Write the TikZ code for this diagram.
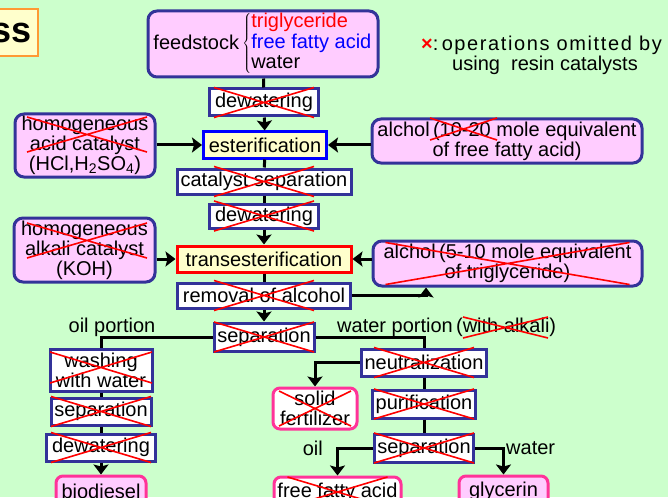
\documentclass[tikz,border=0pt]{standalone}
\usepackage{fontspec}
\setmainfont{Liberation Sans}
\usetikzlibrary{arrows.meta}
\definecolor{bggreen}{HTML}{CCFFCC}
\definecolor{boxblue}{HTML}{333399}
\definecolor{hotpink}{HTML}{FF3399}
\definecolor{lightpink}{HTML}{FFCCFF}
\definecolor{lightyellow}{HTML}{FFFFCC}
\definecolor{titleorange}{HTML}{FF9933}
% Kreuz: Mitte, halbe Breite, halbe Hoehe
\newcommand{\redcross}[3]{%
  \draw[crossline] ([shift={(-#2,-#3)}]#1) -- ([shift={(#2,#3)}]#1)
    ([shift={(-#2,#3)}]#1) -- ([shift={(#2,-#3)}]#1);}
\begin{document}
\begin{tikzpicture}[x=1pt, y=-1pt, inner sep=0pt, font=\fontsize{20}{20}\selectfont,
  sz/.style 2 args={minimum width=#1pt, minimum height=#2pt},
  box/.style={draw=boxblue, line width=3pt, fill=white, align=center},
  rbox/.style={box, rounded corners=9pt, fill=lightpink},
  product/.style={draw=hotpink, line width=3pt, rounded corners=7pt, fill=lightpink, align=center},
  waste/.style={product, fill=white},
  titlebox/.style={draw=titleorange, line width=2pt, fill=lightyellow, inner xsep=6pt,
    minimum height=47pt, font=\fontsize{36}{36}\selectfont\bfseries},
  link/.style={line width=3pt},
  arr/.style={link, -{Stealth[length=10pt, width=15pt, inset=2pt]}},
  crossline/.style={red, line width=1.6pt}]
% Hintergrund
\fill[bggreen] (0,0) rectangle (668,497);
\useasboundingbox (0,0) rectangle (668,497);
\node (title) [titlebox, anchor=east] at (39,32.5) {ss};
% Legende
\node (legend) [anchor=west, align=left] at (421,55)
  {\addfontfeature{LetterSpace=8}\textcolor{red}{\bfseries ×}:\,operations omitted by\\
   \hspace*{31pt}using\ \ resin catalysts};
% Hauptstrang
\node (feed) [rbox, sz={230}{66}] at (263,44)
  {feedstock\,$\left\{\begin{tabular}{@{}l@{}}\textcolor{red}{triglyceride}\\
   \textcolor{blue}{free fatty acid}\\ water\end{tabular}\right.$};
\node (dw1) [box, sz={109}{27}] at (264,102.5) {dewatering};
\node (ester) [box, draw=blue, fill=lightyellow, sz={123}{26}] at (265,145) {esterification};
\node (catsep) [box, sz={174}{25}] at (264,181.5) {catalyst separation};
\node (dw2) [box, sz={109}{24}] at (264,216) {dewatering};
\node (trans) [box, draw=red, fill=lightyellow, sz={174}{26}] at (264,259) {transesterification};
\node (removal) [box, sz={173}{25}] at (264,295.5) {removal of alcohol};
\node (sep1) [box, sz={100}{28}] at (264,337) {separation};
% Zulaeufe
\node (acid) [rbox, sz={140}{63}] at (85,145.5)
  {homogeneous\\acid catalyst\\(HCl,H\textsubscript{2}SO\textsubscript{4})};
\node (alkali) [rbox, sz={141}{64}] at (84.5,250) {homogeneous\\alkali catalyst\\(KOH)};
\node (alc1) [rbox, sz={270}{44}] at (507,141) {alchol\,(10-20 mole equivalent\\of free fatty acid)};
\node (alc2) [rbox, sz={269}{45}] at (507.5,263.5) {alchol\,(5-10 mole equivalent\\of triglyceride)};
% Oelphase
\node (oilpor) at (112,327) {oil portion};
\node (wash) [box, sz={102}{42}] at (101,370) {washing\\with water};
\node (sepL) [box, sz={100}{27}] at (101,411.5) {separation};
\node (dwL) [box, sz={109}{27}] at (101,447.5) {dewatering};
\node (bio) [product, sz={90}{30}] at (101,491) {biodiesel};
% Wasserphase
\node (watpor) [anchor=west] at (337,327) {water portion\,(with alkali)};
\node (neut) [box, sz={125}{27}] at (424,362.5) {neutralization};
\node (puri) [box, sz={103}{28}] at (424,404) {purification};
\node (sep2) [box, sz={99}{28}] at (424,448) {separation};
\node (fert) [waste, sz={84}{41}] at (315,408.5) {solid\\fertilizer};
\node (ffa) [waste, sz={127}{30}] at (337.5,492) {free fatty acid};
\node (gly) [product, sz={89}{30}] at (503.5,491) {glycerin};
\node (oil) [anchor=east] at (323,448) {oil};
\node (water) [anchor=west] at (506,448) {water};
\coordinate (recycle) at (426,0);
% Verbindungen
\draw[link] (feed) -- (dw1);
\draw[arr] (dw1) -- (ester);
\draw[link] (ester) -- (catsep);
\draw[link] (catsep) -- (dw2);
\draw[arr] (dw2) -- (trans);
\draw[link] (trans) -- (removal);
\draw[arr] (removal) -- (sep1);
\draw[arr] (acid.east |- ester.west) -- (ester.west);
\draw[arr] (alc1.west |- ester.east) -- (ester.east);
\draw[arr] (alkali.east |- trans.west) -- (trans.west);
\draw[arr] (alc2.west |- trans.east) -- (trans.east);
\draw[arr] (removal.east) -| (alc2.south -| recycle);
\draw[link] (sep1.west) -| (wash.north);
\draw[link] (sep1.east) -| (neut.north);
\draw[link] (wash) -- (sepL);
\draw[link] (sepL) -- (dwL);
\draw[arr] (dwL) -- (bio);
\draw[arr] (neut.west) -| (fert.north);
\draw[link] (neut) -- (puri);
\draw[link] (puri) -- (sep2);
\draw[arr] (sep2.west) -| (ffa.north);
\draw[arr] (sep2.east) -| (gly.north);
% Kreuze
\foreach \n in {dw1,catsep,dw2,removal,sep1,neut,puri,sep2,sepL,dwL,ffa}
  \redcross{\n.center}{50}{15};
\redcross{101,367.5}{51}{15.5}
\redcross{fert.center}{36}{17.5}
\redcross{alc2.center}{122}{21}
\redcross{87,134.5}{60}{17.5}
\redcross{87,240.5}{60}{17.5}
\redcross{463.5,129}{33.5}{11}
\redcross{505.5,327.5}{42.5}{10.5}
\end{tikzpicture}
\end{document}
